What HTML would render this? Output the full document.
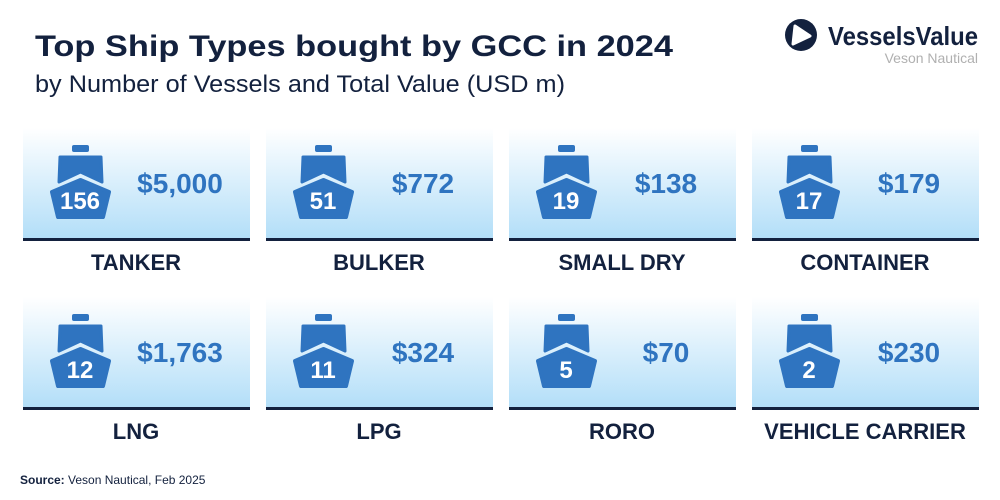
<!DOCTYPE html>
<html><head><meta charset="utf-8"><style>
body{margin:0;background:#fff}
svg{display:block}
text{font-family:"Liberation Sans",sans-serif}
</style></head><body>
<svg width="1000" height="500" viewBox="0 0 1000 500" xmlns="http://www.w3.org/2000/svg">
<defs>
<linearGradient id="g" x1="0" y1="0" x2="0" y2="1">
<stop offset="0" stop-color="#ffffff"/><stop offset="1" stop-color="#b2def8"/>
</linearGradient>
<g id="ship">
<rect x="49" y="17" width="17" height="7" rx="2" fill="#2f74c0"/>
<polygon points="37,29 78,29 79,54 57.5,44 36,54" fill="#2f74c0" stroke="#2f74c0" stroke-width="3" stroke-linejoin="round"/>
<polygon points="57.5,52 29,64 35,89 80,89 86,64" fill="#2f74c0" stroke="#2f74c0" stroke-width="4" stroke-linejoin="round"/>
</g>
</defs>
<text x="35" y="56" font-size="30" font-weight="bold" fill="#13213e" textLength="638" lengthAdjust="spacingAndGlyphs">Top Ship Types bought by GCC in 2024</text>
<text x="35" y="92" font-size="24" fill="#13213e" textLength="530" lengthAdjust="spacingAndGlyphs">by Number of Vessels and Total Value (USD m)</text>
<circle cx="801" cy="35" r="16" fill="#13213e"/>
<polygon points="795,26 810,36 793,44" fill="#fff" stroke="#fff" stroke-width="3" stroke-linejoin="round"/>
<text x="828" y="45" font-size="26" font-weight="bold" fill="#13213e" textLength="150" lengthAdjust="spacingAndGlyphs">VesselsValue</text>
<text x="978" y="63" font-size="14" fill="#b0b0b0" text-anchor="end">Veson Nautical</text>

<g font-weight="bold">
<g transform="translate(23,128)">
<rect width="227" height="111" fill="url(#g)"/><rect y="110" width="227" height="3" fill="#13213e"/>
<use href="#ship"/><text x="57" y="81" font-size="24" fill="#fff" text-anchor="middle">156</text>
<text x="157" y="65" font-size="28" fill="#2f74c0" text-anchor="middle">$5,000</text>
<text x="113" y="142" font-size="22" fill="#13213e" text-anchor="middle">TANKER</text></g>
<g transform="translate(266,128)">
<rect width="227" height="111" fill="url(#g)"/><rect y="110" width="227" height="3" fill="#13213e"/>
<use href="#ship"/><text x="57" y="81" font-size="24" fill="#fff" text-anchor="middle">51</text>
<text x="157" y="65" font-size="28" fill="#2f74c0" text-anchor="middle">$772</text>
<text x="113" y="142" font-size="22" fill="#13213e" text-anchor="middle">BULKER</text></g>
<g transform="translate(509,128)">
<rect width="227" height="111" fill="url(#g)"/><rect y="110" width="227" height="3" fill="#13213e"/>
<use href="#ship"/><text x="57" y="81" font-size="24" fill="#fff" text-anchor="middle">19</text>
<text x="157" y="65" font-size="28" fill="#2f74c0" text-anchor="middle">$138</text>
<text x="113" y="142" font-size="22" fill="#13213e" text-anchor="middle">SMALL DRY</text></g>
<g transform="translate(752,128)">
<rect width="227" height="111" fill="url(#g)"/><rect y="110" width="227" height="3" fill="#13213e"/>
<use href="#ship"/><text x="57" y="81" font-size="24" fill="#fff" text-anchor="middle">17</text>
<text x="157" y="65" font-size="28" fill="#2f74c0" text-anchor="middle">$179</text>
<text x="113" y="142" font-size="22" fill="#13213e" text-anchor="middle">CONTAINER</text></g>
<g transform="translate(23,297)">
<rect width="227" height="111" fill="url(#g)"/><rect y="110" width="227" height="3" fill="#13213e"/>
<use href="#ship"/><text x="57" y="81" font-size="24" fill="#fff" text-anchor="middle">12</text>
<text x="157" y="65" font-size="28" fill="#2f74c0" text-anchor="middle">$1,763</text>
<text x="113" y="142" font-size="22" fill="#13213e" text-anchor="middle">LNG</text></g>
<g transform="translate(266,297)">
<rect width="227" height="111" fill="url(#g)"/><rect y="110" width="227" height="3" fill="#13213e"/>
<use href="#ship"/><text x="57" y="81" font-size="24" fill="#fff" text-anchor="middle">11</text>
<text x="157" y="65" font-size="28" fill="#2f74c0" text-anchor="middle">$324</text>
<text x="113" y="142" font-size="22" fill="#13213e" text-anchor="middle">LPG</text></g>
<g transform="translate(509,297)">
<rect width="227" height="111" fill="url(#g)"/><rect y="110" width="227" height="3" fill="#13213e"/>
<use href="#ship"/><text x="57" y="81" font-size="24" fill="#fff" text-anchor="middle">5</text>
<text x="157" y="65" font-size="28" fill="#2f74c0" text-anchor="middle">$70</text>
<text x="113" y="142" font-size="22" fill="#13213e" text-anchor="middle">RORO</text></g>
<g transform="translate(752,297)">
<rect width="227" height="111" fill="url(#g)"/><rect y="110" width="227" height="3" fill="#13213e"/>
<use href="#ship"/><text x="57" y="81" font-size="24" fill="#fff" text-anchor="middle">2</text>
<text x="157" y="65" font-size="28" fill="#2f74c0" text-anchor="middle">$230</text>
<text x="113" y="142" font-size="22" fill="#13213e" text-anchor="middle">VEHICLE CARRIER</text></g>
</g>
<text x="20" y="484" font-size="12" fill="#13213e"><tspan font-weight="bold">Source:</tspan> Veson Nautical, Feb 2025</text>
</svg>
</body></html>
